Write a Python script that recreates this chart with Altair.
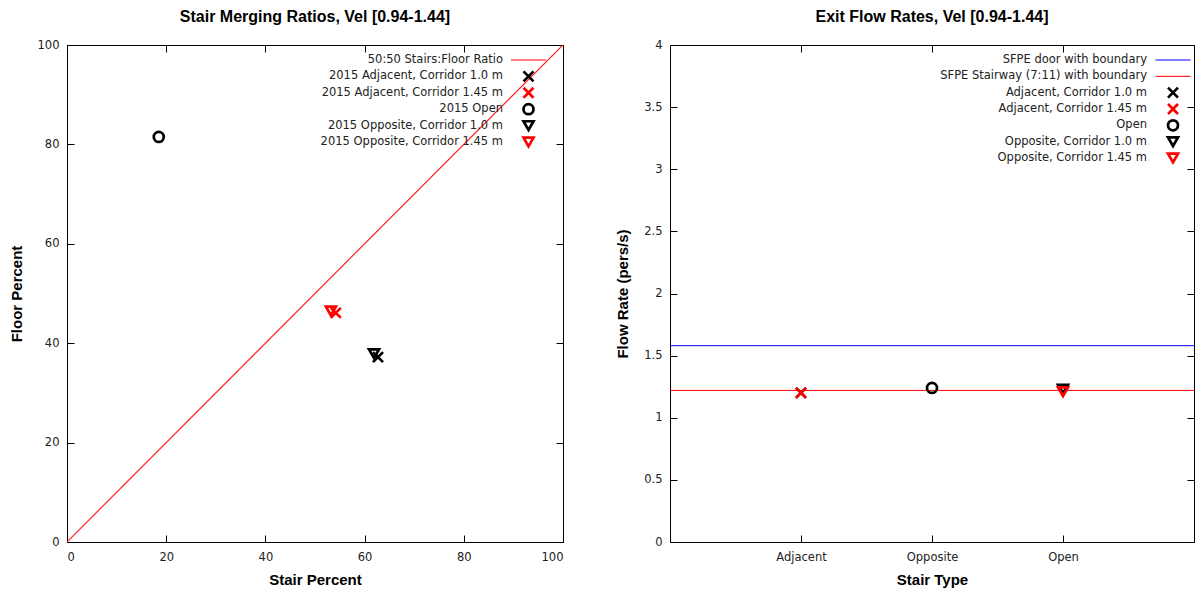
import altair as alt
import pandas as pd

# ---------------- data ----------------
# left panel: stair merging ratios
ratio_label = "50:50 Stairs:Floor Ratio"
ratio_stair = [0, 100]
ratio_floor = [0, 100]
left_series = [
    "2015 Adjacent, Corridor 1.0 m",
    "2015 Adjacent, Corridor 1.45 m",
    "2015 Open",
    "2015 Opposite, Corridor 1.0 m",
    "2015 Opposite, Corridor 1.45 m",
]
left_stair = [62.7, 54.2, 18.5, 61.9, 53.2]
left_floor = [37.2, 46.1, 81.5, 37.9, 46.5]

# right panel: exit flow rates
stair_range = [0, 4]
ref_labels = ["SFPE door with boundary", "SFPE Stairway (7:11) with boundary"]
ref_values = [1.58, 1.22]
ref_colors = ["#0000ff", "#ff0000"]
right_series = [
    "Adjacent, Corridor 1.0 m",
    "Adjacent, Corridor 1.45 m",
    "Open",
    "Opposite, Corridor 1.0 m",
    "Opposite, Corridor 1.45 m",
]
right_pos = [1, 1, 2, 3, 3]
right_flow = [1.20, 1.20, 1.24, 1.23, 1.21]
stair_types = ["Adjacent", "Opposite", "Open"]
stair_ticks = [1, 2, 3]

series_colors = ["#000000", "#ff0000", "#000000", "#000000", "#ff0000"]

# ---------------- styles ----------------
LINE = "M-3.5,0L3.5,0"
XMARK = "M-1,-1L1,1M-1,1L1,-1"
series_shapes = [XMARK, XMARK, "circle", "triangle-down", "triangle-down"]
MARK_W = 2.7

W1, W2, H = 496, 524, 497
TICK = 7
LABEL_FONT = "DejaVu Sans"
TITLE_FONT = "Liberation Sans"
LEG_SIZE = 11.5


def main_axis(orient, values, title, label_padding, title_padding, **kw):
    return alt.Axis(orient=orient, offset=-TICK, values=values, ticks=True, tickSize=TICK,
                    tickColor="black", domain=False, grid=False, labelPadding=label_padding,
                    title=title, titlePadding=title_padding, **kw)


def mirror_axis(orient, values):
    return alt.Axis(orient=orient, offset=-TICK, values=values, labels=False, ticks=True,
                    tickSize=TICK, tickColor="black", domain=False, grid=False, title=None)


def legend_layers(field, line_labels, line_colors, series, dom, cols, shps, label_x, sym_x, y_range):
    yenc = alt.Y(f"{field}:N", scale=alt.Scale(domain=dom, range=y_range, padding=0), axis=None)
    text = alt.Chart(pd.DataFrame({field: dom})).mark_text(
        align="right", baseline="middle", font=LABEL_FONT, fontSize=LEG_SIZE, color="#222222").encode(
        x=alt.value(label_x), y=yenc, text=f"{field}:N")
    line_syms = alt.Chart(pd.DataFrame({field: line_labels})).mark_point(
        filled=False, size=100, opacity=1, strokeWidth=1, shape=LINE).encode(
        x=alt.value(sym_x), y=yenc,
        color=alt.Color(f"{field}:N", scale=alt.Scale(domain=dom, range=cols), legend=None),
    )
    mark_syms = alt.Chart(pd.DataFrame({field: series})).mark_point(
        filled=False, size=100, opacity=1, strokeWidth=MARK_W).encode(
        x=alt.value(sym_x), y=yenc,
        color=alt.Color(f"{field}:N", scale=alt.Scale(domain=dom, range=cols), legend=None),
        shape=alt.Shape(f"{field}:N", scale=alt.Scale(domain=dom, range=shps), legend=None),
    )
    return text, line_syms, mark_syms


def title(text):
    return alt.TitleParams(text, font=TITLE_FONT, fontSize=16, fontWeight="bold", anchor="middle",
                           frame="group", offset=14, color="black")


# ---------------- left panel ----------------
ratio_df = pd.DataFrame({"stair": ratio_stair, "floor": ratio_floor})
left_df = pd.DataFrame({"lseries": left_series, "stair": left_stair, "floor": left_floor})
l_dom = [ratio_label] + left_series
l_col = ["#ff0000"] + series_colors
l_shp = [LINE] + series_shapes
xs1 = alt.Scale(domain=[0, 100], nice=False, zero=False)
ys1 = alt.Scale(domain=[0, 100], nice=False, zero=False)
xv1 = list(range(0, 101, 20))
yv1 = list(range(0, 101, 20))

l_line = alt.Chart(ratio_df).mark_line(color="#ff2020", strokeWidth=1.2, clip=True).encode(
    x=alt.X("stair:Q", scale=xs1, axis=main_axis("bottom", xv1, "Stair Percent", 9, 10)),
    y=alt.Y("floor:Q", scale=ys1, axis=main_axis("left", yv1, "Floor Percent", 8, 13)),
)
l_pts = alt.Chart(left_df).mark_point(filled=False, size=100, opacity=1, strokeWidth=MARK_W).encode(
    x=alt.X("stair:Q", scale=xs1, axis=mirror_axis("top", xv1)),
    y=alt.Y("floor:Q", scale=ys1, axis=mirror_axis("right", yv1)),
    color=alt.Color("lseries:N", scale=alt.Scale(domain=l_dom, range=l_col), legend=None),
    shape=alt.Shape("lseries:N", scale=alt.Scale(domain=l_dom, range=l_shp), legend=None),
)
l_text, l_lsym, l_msym = legend_layers("lseries", [ratio_label], ["#ff0000"], left_series,
                                       l_dom, l_col, l_shp, 436, 461.5, [15, 97])
left = alt.layer(l_line, l_pts, l_text, l_lsym, l_msym).resolve_scale(y="independent").resolve_axis(
    x="independent", y="independent").properties(width=W1, height=H, title=title(
        "Stair Merging Ratios, Vel [0.94-1.44]"))

# ---------------- right panel ----------------
right_df = pd.DataFrame({"rseries": right_series, "pos": right_pos, "flow": right_flow})
r_dom = ref_labels + right_series
r_col = ref_colors + series_colors
r_shp = [LINE, LINE] + series_shapes
xs2 = alt.Scale(domain=stair_range, nice=False, zero=False)
ys2 = alt.Scale(domain=[0, 4], nice=False, zero=False)
yv2 = [i * 0.5 for i in range(9)]
label_expr = "[" + ",".join("'%s'" % s for s in stair_types) + "][datum.value - 1]"


def ref_df(i):
    return pd.DataFrame({"x0": [stair_range[0]], "x1": [stair_range[1]], "flow": [ref_values[i]]})


r_rule1 = alt.Chart(ref_df(0)).mark_rule(color=ref_colors[0], strokeWidth=1).encode(
    x=alt.X("x0:Q", scale=xs2, axis=main_axis("bottom", stair_ticks, "Stair Type", 9, 10,
                                              labelExpr=label_expr)),
    x2="x1:Q",
    y=alt.Y("flow:Q", scale=ys2, axis=main_axis("left", yv2, "Flow Rate (pers/s)", 8, 13, format="~g")),
)
r_rule2 = alt.Chart(ref_df(1)).mark_rule(color=ref_colors[1], strokeWidth=1).encode(
    x=alt.X("x0:Q", scale=xs2, axis=mirror_axis("top", stair_ticks)),
    x2="x1:Q",
    y=alt.Y("flow:Q", scale=ys2, axis=mirror_axis("right", yv2)),
)
r_pts = alt.Chart(right_df).mark_point(filled=False, size=100, opacity=1, strokeWidth=MARK_W).encode(
    x=alt.X("pos:Q", scale=xs2, axis=None),
    y=alt.Y("flow:Q", scale=ys2, axis=None),
    color=alt.Color("rseries:N", scale=alt.Scale(domain=r_dom, range=r_col), legend=None),
    shape=alt.Shape("rseries:N", scale=alt.Scale(domain=r_dom, range=r_shp), legend=None),
)
r_text, r_lsym, r_msym = legend_layers("rseries", ref_labels, ref_colors, right_series,
                                       r_dom, r_col, r_shp, 477, 503, [15, 113])
right = alt.layer(r_rule1, r_rule2, r_pts, r_text, r_lsym, r_msym).resolve_scale(
    y="independent").resolve_axis(x="independent", y="independent").properties(
    width=W2, height=H, title=title("Exit Flow Rates, Vel [0.94-1.44]"))

chart = alt.hconcat(left, right, spacing=51).resolve_scale(
    color="independent", shape="independent"
).properties(
    padding={"left": 0, "top": 0, "right": 0, "bottom": 0}
).configure_view(
    stroke="black", strokeWidth=1
).configure_axis(
    labelFont=LABEL_FONT, labelFontSize=11.5, labelColor="#222222",
    titleFont=TITLE_FONT, titleFontSize=15, titleFontWeight="bold", titleColor="black",
)

chart.save("out.html", embed_options={"renderer": "svg", "actions": False})
